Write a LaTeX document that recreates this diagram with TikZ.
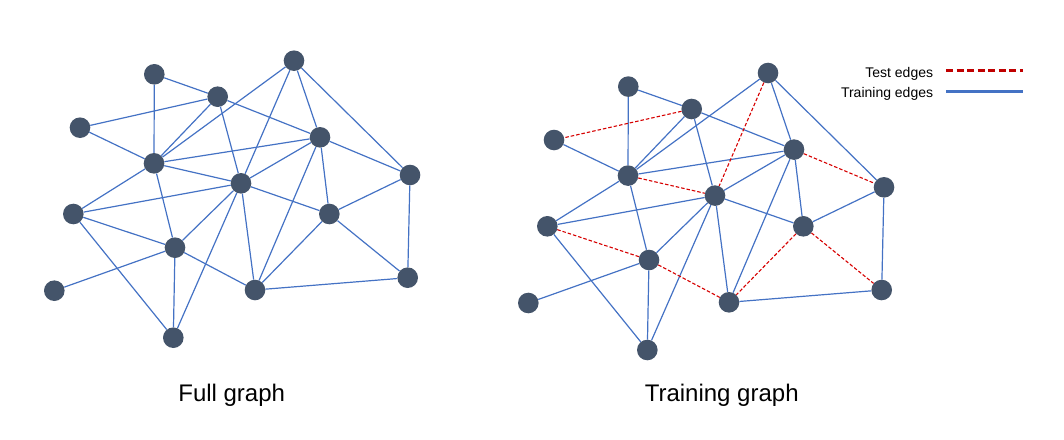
\documentclass[tikz,border=0pt]{standalone}
\usepackage{fontspec}
\setmainfont{Liberation Sans}
\definecolor{nodecol}{HTML}{44546A}
\definecolor{edgeblue}{HTML}{4472C4}
\definecolor{testred}{HTML}{C00000}
\definecolor{edgered}{HTML}{D60000}
\begin{document}
\begin{tikzpicture}[x=1pt,y=-1pt,
  gnode/.style={circle,fill=nodecol,inner sep=0pt,minimum size=20.6pt},
  trainedge/.style={edgeblue,line width=1.2pt},
  testedge/.style={edgered,line width=1.1pt,dash pattern=on 3.5pt off 2pt},
  caption/.style={font=\fontsize{24}{28}\selectfont,anchor=base,inner sep=0pt},
  legendtext/.style={font=\fontsize{14}{16}\selectfont,anchor=base east,inner sep=0pt},
  legtest/.style={testred,line width=2.5pt,dash pattern=on 7pt off 3.5pt},
  legtrain/.style={edgeblue,line width=2.5pt}]
\useasboundingbox (0,0) rectangle (1064,439);
\foreach \n/\x/\y in {A/154.3/74.3, B/217.7/96.7, C/294/60.7, D/80/127.7,
  E/154/163.3, F/320/137.3, G/241/183.3, H/410/175, I/73.3/214,
  J/329.3/214, K/175/247.7, L/255/290, M/407.7/277.7, N/54.3/290.7,
  O/173.3/337.7} {
  \node[gnode] (l\n) at (\x,\y) {};
  \node[gnode] (r\n) at (\x+474,\y+12.3) {};
}
\foreach \a/\b in {A/E, A/B, D/E, B/E, C/E, B/G, B/F, C/F, C/H, E/F, E/I,
  E/K, F/G, F/J, F/L, G/I, G/J, G/K, G/O, G/L, H/J, H/M, I/O, K/N, K/O, L/M} {
  \draw[trainedge] (l\a) -- (l\b);
  \draw[trainedge] (r\a) -- (r\b);
}
\foreach \a/\b in {B/D, E/G, C/G, F/H, I/K, K/L, J/L, J/M} {
  \draw[trainedge] (l\a) -- (l\b);
  \draw[testedge] (r\a) -- (r\b);
}
\node[caption] (cap1) at (231.7,401.7) {Full graph};
\node[caption] (cap2) at (721.7,401.7) {Training graph};
\node[legendtext] (lt1) at (933.3,77.5) {Test edges};
\node[legendtext] (lt2) at (933.3,97.3) {Training edges};
\coordinate (t1s) at (946,70.7);
\coordinate (t1e) at (1023.3,70.7);
\coordinate (t2s) at (946,91.3);
\coordinate (t2e) at (1023.3,91.3);
\draw[legtest] (t1s) -- (t1e);
\draw[legtrain] (t2s) -- (t2e);
\end{tikzpicture}
\end{document}
